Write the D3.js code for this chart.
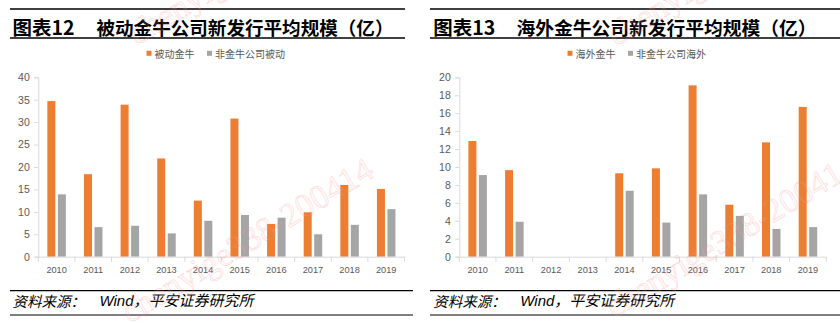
<!DOCTYPE html>
<html><head><meta charset="utf-8">
<script src="https://cdn.jsdelivr.net/npm/d3@7"></script>
<style>
html,body{margin:0;padding:0;background:#fff;}
svg{display:block;}
</style></head>
<body>
<svg id="c" width="840" height="323"></svg>
<script>
// ---------- DATA ----------
const years = ["2010","2011","2012","2013","2014","2015","2016","2017","2018","2019"];
const leftTitleNo = "图表12";
const leftTitle = "被动金牛公司新发行平均规模（亿）";
const leftSeriesNames = ["被动金牛", "非金牛公司被动"];
const leftJinniu = [34.7, 18.4, 33.9, 21.9, 12.5, 30.8, 7.3, 9.9, 16.0, 15.1];
const leftOther  = [13.9, 6.6, 6.9, 5.2, 8.0, 9.3, 8.7, 5.0, 7.1, 10.6];
const leftTicks = [0, 5, 10, 15, 20, 25, 30, 35, 40];

const rightTitleNo = "图表13";
const rightTitle = "海外金牛公司新发行平均规模（亿）";
const rightSeriesNames = ["海外金牛", "非金牛公司海外"];
const rightJinniu = [12.9, 9.65, null, null, 9.3, 9.85, 19.1, 5.8, 12.75, 16.7];
const rightOther  = [9.1, 3.9, null, null, 7.35, 3.8, 6.95, 4.55, 3.1, 3.3];
const rightTicks = [0, 2, 4, 6, 8, 10, 12, 14, 16, 18, 20];

const sourceText = "资料来源：";
const sourceText2 = "Wind，平安证券研究所";
const watermark = "chenyige338-200414";

// ---------- STYLE ----------
const colors = ["#ED7D31", "#A5A5A5"];
const cjk = "'Noto Sans CJK SC','Noto Sans',sans-serif";
const num = "'Liberation Sans','Noto Sans',sans-serif";
const svg = d3.select("#c");

function panel(o) {
  const g = svg.append("g");
  // title rules
  g.append("line").attr("x1", o.ruleX0).attr("x2", o.ruleX1).attr("y1", 9).attr("y2", 9)
    .attr("stroke", "#000").attr("stroke-width", 1.6);
  g.append("line").attr("x1", o.ruleX0).attr("x2", o.ruleX1).attr("y1", 38).attr("y2", 38)
    .attr("stroke", "#000").attr("stroke-width", 1.3);
  g.append("text").attr("x", o.titleX).attr("y", 26.5).attr("dominant-baseline", "central")
    .attr("font-family", cjk).attr("font-weight", 700).attr("font-size", 19.5).attr("fill", "#000")
    .text(o.titleNo);
  g.append("text").attr("x", o.titleX2).attr("y", 26.5).attr("dominant-baseline", "central")
    .attr("font-family", cjk).attr("font-weight", 700).attr("font-size", 18.5).attr("fill", "#000")
    .attr("textLength", o.titleLen).attr("lengthAdjust", "spacingAndGlyphs")
    .text(o.title);

  // legend
  o.names.forEach((n, i) => {
    g.append("rect").attr("x", o.legX[i]).attr("y", 50.8).attr("width", 5).attr("height", 5).attr("fill", colors[i]);
    g.append("text").attr("x", o.legX[i] + 8).attr("y", 53.5).attr("dominant-baseline", "central")
      .attr("font-family", cjk).attr("font-size", 10).attr("fill", "#595959").text(n);
  });

  // scales
  const x = d3.scaleBand().domain(years).range([o.x0, o.x1]).paddingInner(0).paddingOuter(0);
  const bw = x.bandwidth();
  const xs = d3.scaleBand().domain([0, 1]).range([bw / 2 - 9.25, bw / 2 + 9.25]).paddingInner(0.238).paddingOuter(0);
  const y = d3.scaleLinear().domain([0, o.max]).range([256.7, 77.3]);

  // y axis
  const ya = g.append("g").attr("transform", `translate(${o.x0},0)`)
    .call(d3.axisLeft(y).tickValues(o.ticks).tickSize(4).tickPadding(4.5));
  ya.select(".domain").attr("stroke", "#d9d9d9");
  ya.selectAll(".tick line").attr("stroke", "#d9d9d9");
  ya.selectAll("text").attr("font-family", num).attr("font-size", 10.5).attr("fill", "#595959");

  // bars
  const series = [o.a, o.b];
  series.forEach((vals, si) => {
    g.append("g").selectAll("rect").data(years.map((yr, i) => ({ yr, v: vals[i] })).filter(d => d.v != null))
      .join("rect")
      .attr("x", d => x(d.yr) + xs(si))
      .attr("width", xs.bandwidth())
      .attr("y", d => y(d.v))
      .attr("height", d => y(0) - y(d.v))
      .attr("fill", colors[si]);
  });

  // x axis
  const xa = g.append("g").attr("transform", `translate(0,${y(0)})`)
    .call(d3.axisBottom(x).tickSize(0).tickPadding(9.5));
  xa.select(".domain").attr("stroke", "#d9d9d9");
  xa.selectAll("text").attr("font-family", num).attr("font-size", 9.2).attr("fill", "#595959");
  const bounds = years.map(d => x(d)).concat([o.x1]);
  g.append("g").selectAll("line").data(bounds).join("line")
    .attr("x1", d => d).attr("x2", d => d).attr("y1", y(0)).attr("y2", y(0) + 5)
    .attr("stroke", "#d9d9d9");

  // footer
  g.append("line").attr("x1", o.ruleX0).attr("x2", o.footX1).attr("y1", 290.7).attr("y2", 290.7)
    .attr("stroke", "#000").attr("stroke-width", 1.2);
  g.append("line").attr("x1", o.ruleX0).attr("x2", o.footX1).attr("y1", 315).attr("y2", 315)
    .attr("stroke", "#000").attr("stroke-width", 1.2);
  g.append("text").attr("x", o.titleX).attr("y", 300).attr("dominant-baseline", "central")
    .attr("font-family", cjk).attr("font-style", "italic").attr("font-size", 14.5).attr("fill", "#000")
    .text(sourceText);
  g.append("text").attr("x", o.titleX + 87).attr("y", 300).attr("dominant-baseline", "central")
    .attr("font-family", "'Liberation Sans','Noto Sans CJK SC',sans-serif").attr("font-style", "italic")
    .attr("font-size", 15).attr("fill", "#000")
    .text(sourceText2);
}

panel({ titleNo: leftTitleNo, title: leftTitle, names: leftSeriesNames, a: leftJinniu, b: leftOther,
  ticks: leftTicks, max: 40, x0: 38.3, x1: 404.5, ruleX0: 10, ruleX1: 405, footX1: 413,
  titleX: 12.5, titleX2: 96.5, titleLen: 297, legX: [146.5, 207] });
panel({ titleNo: rightTitleNo, title: rightTitle, names: rightSeriesNames, a: rightJinniu, b: rightOther,
  ticks: rightTicks, max: 20, x0: 459.3, x1: 826.3, ruleX0: 430, ruleX1: 840, footX1: 840,
  titleX: 433.3, titleX2: 516.5, titleLen: 300, legX: [567.5, 628] });

// watermark
const wmPos = [[131, 36], [124, 314], [610, 37], [608, 309]];
svg.append("g").selectAll("text").data(wmPos).join("text")
  .attr("transform", d => `translate(${d[0]},${d[1]}) rotate(-31)`)
  .attr("font-family", "'Liberation Serif','DejaVu Serif',serif").attr("font-size", 34)
  .attr("fill", "rgba(255,190,190,0.12)").attr("stroke", "rgba(240,110,110,0.32)").attr("stroke-width", 0.5)
  .attr("dominant-baseline", "central")
  .text(watermark);
</script>
</body></html>
